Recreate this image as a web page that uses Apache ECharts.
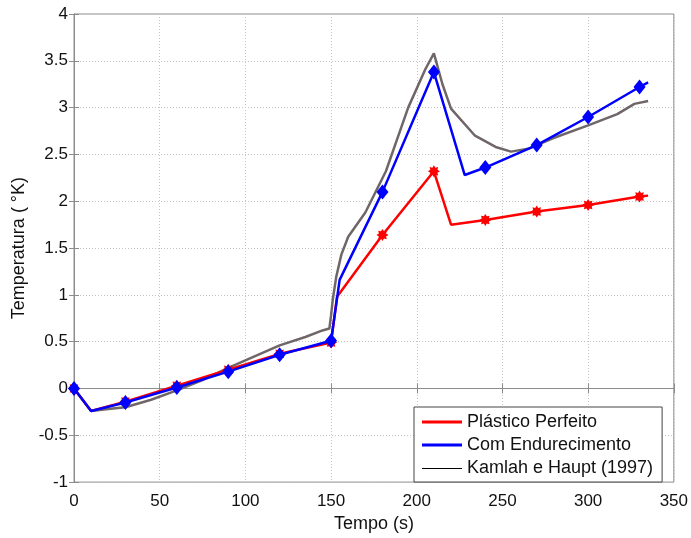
<!DOCTYPE html>
<html>
<head>
<meta charset="utf-8">
<script src="https://cdn.jsdelivr.net/npm/echarts@6/dist/echarts.min.js"></script>
<style>
  html, body { margin: 0; padding: 0; background: #fff; }
  #chart { width: 691px; height: 538px; }
</style>
</head>
<body>
<div id="chart"></div>
<script>
// tempo (s) / temperatura (K)
var xTicks = [0, 50, 100, 150, 200, 250, 300, 350];
var yTicks = [-1, -0.5, 0, 0.5, 1, 1.5, 2, 2.5, 3, 3.5, 4];
var markTimes = [0, 30, 60, 90, 120, 150, 180, 210, 240, 270, 300, 330];

var plasticoT = [0, 10, 30, 60, 90, 120, 150, 153.5, 180, 210, 220, 240, 270, 300, 330, 335];
var plasticoV = [0, -0.24, -0.14, 0.03, 0.2, 0.37, 0.49, 0.98, 1.64, 2.32, 1.75, 1.80, 1.89, 1.96, 2.05, 2.06];

var endurT = [0, 10, 30, 60, 90, 120, 150, 155, 180, 210, 228, 240, 270, 300, 330, 335];
var endurV = [0, -0.24, -0.15, 0.01, 0.18, 0.36, 0.51, 1.16, 2.10, 3.38, 2.28, 2.36, 2.60, 2.90, 3.22, 3.27];

var kamlahT = [0, 10, 20, 30, 45, 60, 75, 90, 105, 120, 135, 145, 149, 150, 151, 153, 156, 160, 170, 182, 195, 205, 210, 215, 220, 234, 246, 255, 265, 279, 300, 317, 327, 335];
var kamlahV = [0, -0.24, -0.22, -0.2, -0.12, -0.02, 0.09, 0.22, 0.34, 0.46, 0.55, 0.62, 0.64, 0.78, 0.95, 1.19, 1.43, 1.62, 1.88, 2.32, 3.0, 3.41, 3.58, 3.25, 2.99, 2.70, 2.58, 2.53, 2.56, 2.67, 2.81, 2.93, 3.04, 3.07];

function zip(t, v) {
  return t.map(function (x, i) { return [x, v[i]]; });
}

// estrela de 8 pontas para o marcador vermelho
function starPath(n, r1, r2) {
  var s = '';
  for (var i = 0; i < n * 2; i++) {
    var r = i % 2 === 0 ? r1 : r2;
    var a = Math.PI * i / n;
    s += (i === 0 ? 'M' : 'L') + (r * Math.sin(a)).toFixed(3) + ',' + (-r * Math.cos(a)).toFixed(3);
  }
  return 'path://' + s + 'Z';
}
var starSym = starPath(8, 10, 6.5);

// icones da legenda: pontos nos cantos fixam a caixa 40x4
var thickIcon = 'path://M0,0L0.01,0L0.01,0.01Z M0,0.5H40V3.5H0Z M0,4L0.01,4L0.01,3.99Z';
var thinIcon = 'path://M0,0L0.01,0L0.01,0.01Z M0,2H40V3H0Z M0,4L0.01,4L0.01,3.99Z';

var fontFam = '"Liberation Sans", Arial, Helvetica, sans-serif';
var axisGray = '#8c8c8c';
var gridStyle = { color: '#c4c4c4', width: 1, type: [1, 2] };

var chart = echarts.init(document.getElementById('chart'));
var option = {
  animation: false,
  backgroundColor: '#fff',
  textStyle: { fontFamily: fontFam },
  grid: {
    left: 74, right: 15, top: 14, bottom: 49,
    show: true, borderColor: axisGray, borderWidth: 1
  },
  legend: {
    orient: 'vertical',
    left: 414, top: 407,
    backgroundColor: '#fff',
    borderColor: '#444',
    borderWidth: 1,
    borderRadius: 0,
    padding: [6, 9, 5, 8],
    itemWidth: 40,
    itemHeight: 4,
    itemGap: 5,
    itemStyle: { borderWidth: 0 },
    lineStyle: { width: 0 },
    textStyle: { fontSize: 18, color: '#111', fontFamily: fontFam, lineHeight: 18 },
    data: [
      { name: 'Plástico Perfeito', icon: thickIcon, itemStyle: { color: '#ff0000', borderWidth: 0 } },
      { name: 'Com Endurecimento', icon: thickIcon, itemStyle: { color: '#0000ff', borderWidth: 0 } },
      {
        name: 'Kamlah e Haupt (1997)',
        icon: thinIcon,
        itemStyle: { color: '#000', borderColor: '#000', borderWidth: 0 },
        lineStyle: { color: '#000', width: 0 }
      }
    ]
  },
  xAxis: [{
    type: 'value', min: 0, max: 350, interval: 50,
    name: 'Tempo (s)', nameLocation: 'middle', nameGap: 17,
    nameTextStyle: { fontSize: 18, color: '#111', fontFamily: fontFam },
    axisLine: { show: true, lineStyle: { color: axisGray } },
    axisTick: { show: true, inside: true, length: 5, lineStyle: { color: axisGray } },
    axisLabel: { fontSize: 17, color: '#111', margin: 11, fontFamily: fontFam },
    splitLine: { show: true, lineStyle: gridStyle }
  }, {
    type: 'value', min: 0, max: 350, interval: 50, position: 'top',
    axisLine: { show: true, lineStyle: { color: axisGray } },
    axisTick: { show: true, inside: true, length: 5, lineStyle: { color: axisGray } },
    axisLabel: { show: false },
    splitLine: { show: false }
  }],
  yAxis: [{
    type: 'value', min: -1, max: 4, interval: 0.5,
    name: 'Temperatura ( °K)', nameLocation: 'middle', nameGap: 39,
    nameTextStyle: { fontSize: 18, color: '#111', fontFamily: fontFam },
    axisLine: { show: true, lineStyle: { color: axisGray } },
    axisTick: { show: true, inside: true, length: 5, lineStyle: { color: axisGray } },
    axisLabel: { fontSize: 17, color: '#111', margin: 6, fontFamily: fontFam },
    splitLine: { show: true, lineStyle: gridStyle }
  }, {
    type: 'value', min: -1, max: 4, interval: 0.5, position: 'right',
    axisLine: { show: true, lineStyle: { color: axisGray } },
    axisTick: { show: true, inside: true, length: 5, lineStyle: { color: axisGray } },
    axisLabel: { show: false },
    splitLine: { show: false }
  }],
  series: [{
    name: 'Kamlah e Haupt (1997)',
    type: 'line',
    z: 1,
    data: zip(kamlahT, kamlahV),
    showSymbol: false,
    color: '#6f6668',
    lineStyle: { color: '#6f6668', width: 2.5 }
  }, {
    name: 'Plástico Perfeito',
    type: 'line',
    z: 2,
    data: zip(plasticoT, plasticoV),
    color: '#ff0000',
    showAllSymbol: true,
    symbol: function (v) { return markTimes.indexOf(v[0]) >= 0 ? starSym : 'none'; },
    symbolSize: 12,
    itemStyle: { color: '#ff0000' },
    lineStyle: { color: '#ff0000', width: 2.5 }
  }, {
    name: 'Com Endurecimento',
    type: 'line',
    z: 3,
    data: zip(endurT, endurV),
    color: '#0000ff',
    showAllSymbol: true,
    symbol: function (v) { return markTimes.indexOf(v[0]) >= 0 ? 'diamond' : 'none'; },
    symbolSize: [12, 15],
    itemStyle: { color: '#0000ff' },
    lineStyle: { color: '#0000ff', width: 2.5 }
  }]
};
chart.setOption(option);
</script>
</body>
</html>
